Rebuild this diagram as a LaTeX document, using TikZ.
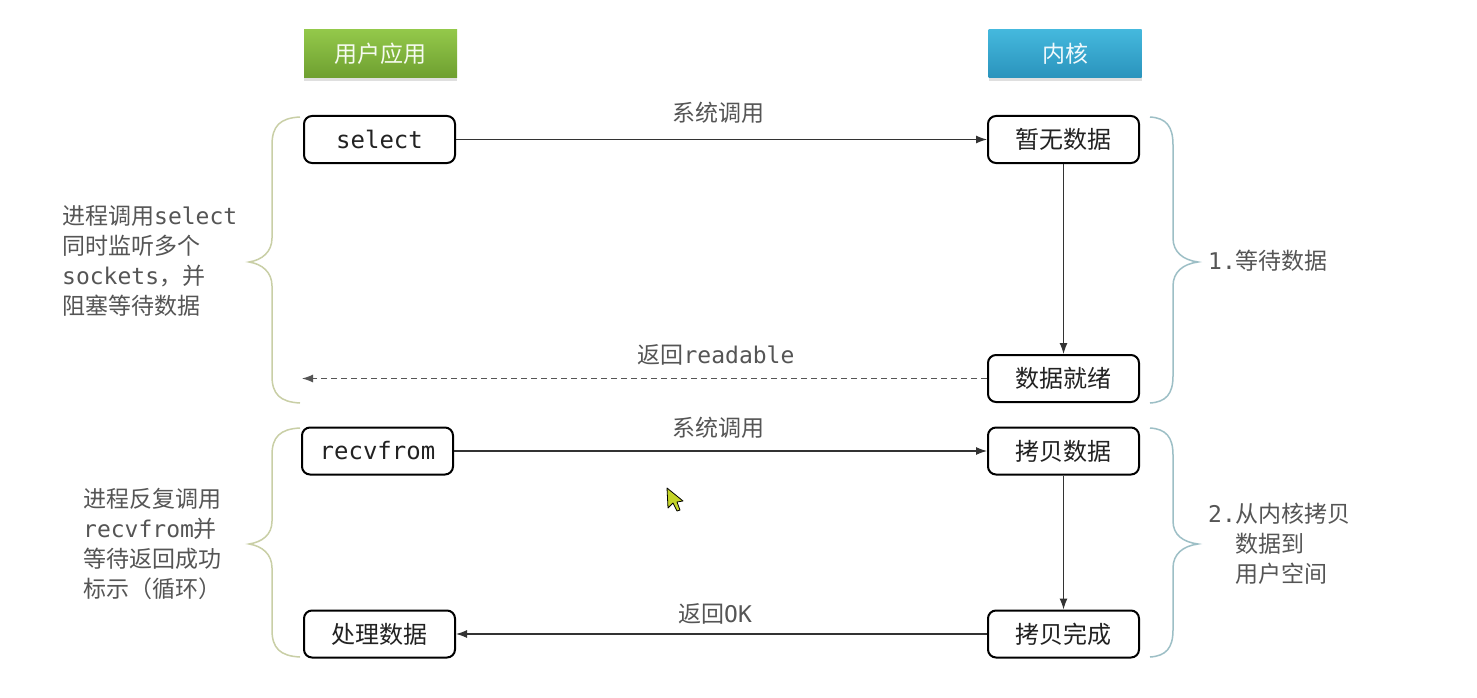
\documentclass[tikz,border=0pt]{standalone}
\usepackage{fontspec}
\setmainfont{DejaVu Sans}
\newfontfamily\cjk{Noto Sans CJK SC}
\newfontfamily\mono{DejaVu Sans Mono}
\usetikzlibrary{arrows.meta,shadows}
\definecolor{txtgray}{HTML}{555555}
\definecolor{boxtxt}{HTML}{222222}
\definecolor{lbrace}{HTML}{C9CFA6}
\definecolor{rbrace}{HTML}{9DBFC6}
\definecolor{gtop}{HTML}{93C84A}
\definecolor{gbot}{HTML}{6E9F30}
\definecolor{btop}{HTML}{44B8DD}
\definecolor{bbot}{HTML}{2A93BC}
\tikzset{
  stepbox/.style={draw=black, line width=2pt, rounded corners=8pt, fill=white,
    minimum width=151pt, minimum height=47pt, inner sep=0pt, text=boxtxt,
    font=\fontsize{24}{28}\selectfont\cjk},
  header/.style={minimum width=153pt, minimum height=48pt, inner sep=0pt,
    text=white!92!gtop, font=\fontsize{23}{28}\selectfont\cjk,
    drop shadow={opacity=0.25, shadow xshift=0pt, shadow yshift=-3pt}},
  arr/.style={draw=black!80, line width=1.1pt, -{Latex[length=11pt,width=8pt]}},
  darr/.style={draw=txtgray, line width=1.1pt, dash pattern=on 6pt off 4pt, -{Latex[length=11pt,width=8pt]}},
  lbl/.style={text=txtgray, font=\fontsize{23}{28}\selectfont\cjk, inner sep=0pt},
  note/.style={text=txtgray, font=\fontsize{23}{30}\selectfont\cjk, align=left, inner sep=0pt},
  lbr/.style={draw=lbrace, line width=1.5pt},
  rbr/.style={draw=rbrace, line width=1.5pt}
}
\begin{document}
\begin{tikzpicture}[x=1pt,y=-1pt]
\useasboundingbox[fill=white] (0,0) rectangle (1477,698);

% headers
\node[header, top color=gtop, bottom color=gbot] (hu) at (380.5,54) {用户应用};
\node[header, top color=btop, bottom color=bbot, text=white!92!btop] (hk) at (1065,54) {内核};

% boxes
\node[stepbox] (sel) at (379.5,139.5) {\mono select};
\node[stepbox] (nod) at (1063.5,139.5) {暂无数据};
\node[stepbox] (rdy) at (1063.5,378.5) {数据就绪};
\node[stepbox] (rcv) at (377.5,451) {\mono recvfrom};
\node[stepbox] (cpy) at (1063.5,451) {拷贝数据};
\node[stepbox] (cpd) at (1063.5,634) {拷贝完成};
\node[stepbox] (prc) at (379.5,634) {处理数据};
\coordinate (rdend) at (302,378.5);

% connectors
\draw[arr] (sel) -- (nod);
\draw[arr] (nod) -- (rdy);
\draw[darr] (rdy.west) -- (rdend);
\draw[arr] (rcv) -- (cpy);
\draw[arr] (cpy) -- (cpd);
\draw[arr] (cpd) -- (prc);

% labels
\node[lbl] (l1) at (718,113) {系统调用};
\node[lbl] (l2) at (716,355) {返回{\mono readable}};
\node[lbl] (l3) at (718,428) {系统调用};
\node[lbl] (l4) at (715,614) {返回{\mono OK}};

% left braces
\draw[lbr] (300,117) .. controls (280,118) and (272,126) .. (272,145)
  -- (272,238) .. controls (272,252) and (262,260) .. (249,262)
  .. controls (262,264) and (272,272) .. (272,286)
  -- (272,376) .. controls (272,394) and (280,402) .. (300,403);
\draw[lbr] (300,428) .. controls (280,429) and (272,437) .. (272,455)
  -- (272,521) .. controls (272,535) and (262,542) .. (249,544)
  .. controls (262,546) and (272,554) .. (272,568)
  -- (272,630) .. controls (272,648) and (280,656) .. (300,657);

% right braces
\draw[rbr] (1150,117) .. controls (1166,118) and (1173,126) .. (1173,145)
  -- (1173,238) .. controls (1173,252) and (1183,260) .. (1198,262)
  .. controls (1183,264) and (1173,272) .. (1173,286)
  -- (1173,376) .. controls (1173,394) and (1166,402) .. (1150,403);
\draw[rbr] (1150,428) .. controls (1166,429) and (1173,437) .. (1173,455)
  -- (1173,521) .. controls (1173,535) and (1183,542) .. (1198,544)
  .. controls (1183,546) and (1173,554) .. (1173,568)
  -- (1173,630) .. controls (1173,648) and (1166,656) .. (1150,657);

% notes
\node[note, anchor=west] (n1) at (62,261) {进程调用{\mono select}\\同时监听多个\\{\mono sockets}，并\\阻塞等待数据};
\node[note, anchor=west] (n2) at (83,544) {进程反复调用\\{\mono recvfrom}并\\等待返回成功\\标示（循环）};
\node[note, anchor=west] (n3) at (1208,261) {{\mono 1.}等待数据};
\node[note, anchor=north west] (n4) at (1208,503) {{\mono 2.}从内核拷贝\\\hphantom{\mono 2.}数据到\\\hphantom{\mono 2.}用户空间};

% mouse cursor
\draw[black, line width=0.8pt, fill={rgb,255:red,196;green,212;blue,40}, line join=round]
  (667,488) -- (668,508) -- (673,503) -- (677,511) -- (680,510) -- (677,502) -- (683,501) -- cycle;
\end{tikzpicture}
\end{document}
